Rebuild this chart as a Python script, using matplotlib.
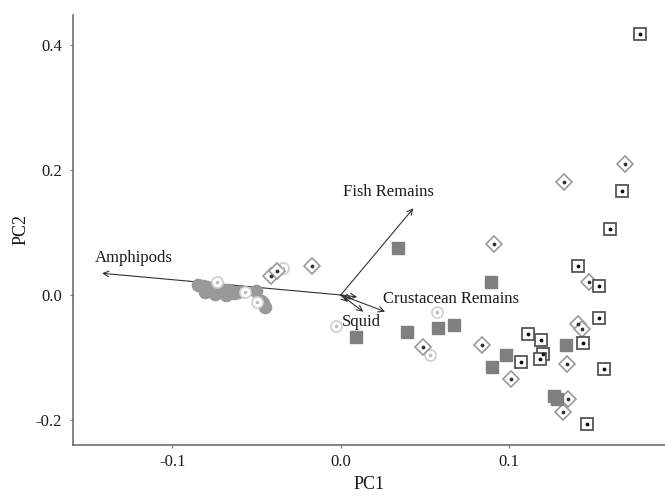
import matplotlib
matplotlib.use('Agg')
import matplotlib.pyplot as plt

plt.rcParams['font.family'] = ['Liberation Serif', 'DejaVu Serif']

# group 1: filled grey circles
circ_x = [-0.0846, -0.0817, -0.0793, -0.0770, -0.0752, -0.0728, -0.0711, -0.0693, -0.0669,
          -0.0651, -0.0633, -0.0805, -0.0746, -0.0681, -0.0610, -0.0503, -0.0473, -0.0449, -0.0461]
circ_y = [0.0160, 0.0144, 0.0128, 0.0112, 0.0128, 0.0080, 0.0096, 0.0064, 0.0080,
          0.0048, 0.0032, 0.0048, 0.0016, 0.0000, 0.0048, 0.0064, -0.0096, -0.0192, -0.0128]

# group 2: open light circles
ocirc_x = [-0.0734, -0.0568, -0.0497, -0.0342, -0.0028, 0.0572, 0.0530]
ocirc_y = [0.0208, 0.0048, -0.0112, 0.0432, -0.0496, -0.0272, -0.0960]

# group 3: open diamonds
diam_x = [-0.0414, -0.0378, -0.0170, 0.0910, 0.0488, 0.0838, 0.1011, 0.1688,
          0.1325, 0.1473, 0.1408, 0.1432, 0.1343, 0.1349, 0.1320]
diam_y = [0.0304, 0.0384, 0.0464, 0.0816, -0.0832, -0.0800, -0.1344, 0.2096,
          0.1808, 0.0208, -0.0464, -0.0544, -0.1104, -0.1664, -0.1872]

# group 4: filled squares
sq_x = [0.0340, 0.0892, 0.0394, 0.0577, 0.0672, 0.0981, 0.0898, 0.1266, 0.1284, 0.0091, 0.1337]
sq_y = [0.0752, 0.0208, -0.0592, -0.0528, -0.0480, -0.0960, -0.1152, -0.1616, -0.1664, -0.0672, -0.0800]

# group 5: open squares
osq_x = [0.1776, 0.1669, 0.1598, 0.1408, 0.1533, 0.1533, 0.1112, 0.1189,
         0.1438, 0.1201, 0.1183, 0.1070, 0.1563, 0.1462]
osq_y = [0.4176, 0.1664, 0.1056, 0.0464, 0.0144, -0.0368, -0.0624, -0.0720,
         -0.0768, -0.0944, -0.1024, -0.1072, -0.1184, -0.2064]

# loading vectors
vec_names = ['Amphipods', 'Fish Remains', 'Crustacean Remains', 'Squid', '', '', '']
vec_x = [-0.1418, 0.0431, 0.0263, 0.0134, 0.0067, 0.0097, 0.0043]
vec_y = [0.0347, 0.1387, -0.0267, -0.0267, -0.0064, -0.0032, -0.0112]
lab_x = [-0.1459, 0.0281, 0.0251, 0.0006]
lab_y = [0.0592, 0.1653, -0.0072, -0.0427]
lab_ha = ['left', 'center', 'left', 'left']

fig = plt.figure(figsize=(6.65, 4.96), dpi=100)
ax = fig.add_axes([0.1098, 0.1034, 0.8902, 0.8666])

for vx, vy in zip(vec_x, vec_y):
    ax.annotate('', xy=(vx, vy), xytext=(0, 0),
                arrowprops=dict(arrowstyle='->', lw=0.8, color='#333333',
                                shrinkA=0, shrinkB=0, mutation_scale=10), zorder=2)
for name, tx, ty, ha in zip(vec_names, lab_x, lab_y, lab_ha):
    ax.text(tx, ty, name, ha=ha, va='center', fontsize=12, color='#1a1a1a', zorder=6)

ax.plot(circ_x, circ_y, 'o', ms=8.8, mfc='#999999', mec='#999999', zorder=3)
ax.plot(ocirc_x, ocirc_y, 'o', ms=8, mfc='white', mec='#cfcfcf', mew=1.2, zorder=3)
ax.plot(ocirc_x, ocirc_y, '.', ms=3, color='#bbbbbb', zorder=4)
ax.plot(diam_x, diam_y, 'D', ms=8, mfc='white', mec='#9a9a9a', mew=1.2, zorder=3)
ax.plot(diam_x, diam_y, '.', ms=3.5, color='#333333', zorder=4)
ax.plot(sq_x, sq_y, 's', ms=9.2, mfc='#7f7f7f', mec='#7f7f7f', zorder=3)
ax.plot(osq_x, osq_y, 's', ms=8.6, mfc='white', mec='#555555', mew=1.3, zorder=3)
ax.plot(osq_x, osq_y, '.', ms=3.5, color='#111111', zorder=4)

ax.set_xlim(-0.159, 0.1925)
ax.set_ylim(-0.2395, 0.448)
ax.set_xticks([-0.1, 0.0, 0.1])
ax.set_xticklabels(['-0.1', '0.0', '0.1'])
ax.set_yticks([-0.2, 0.0, 0.2, 0.4])
ax.set_yticklabels(['-0.2', '0.0', '0.2', '0.4'])
ax.tick_params(length=2, width=0.8, color='#777777', labelsize=12, labelcolor='#1a1a1a')
ax.tick_params(axis='x', pad=5)
ax.tick_params(axis='y', pad=6)

for s in ['top', 'right']:
    ax.spines[s].set_visible(False)
for s in ['left', 'bottom']:
    ax.spines[s].set_color('#6f6f6f')
    ax.spines[s].set_linewidth(1.2)

ax.set_xlabel('PC1', fontsize=13, color='#1a1a1a', labelpad=4)
ax.set_ylabel('PC2', fontsize=13, color='#1a1a1a', labelpad=4)

fig.savefig('out.png', dpi=100)
